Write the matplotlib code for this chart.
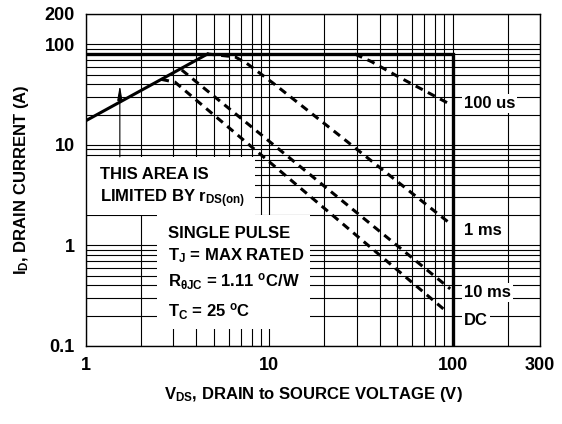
import matplotlib
matplotlib.use("Agg")
import matplotlib.pyplot as plt
from matplotlib.patches import Rectangle
from matplotlib.ticker import LogLocator, NullFormatter

plt.rcParams['font.family'] = ['Liberation Sans', 'DejaVu Sans']
plt.rcParams['font.weight'] = 'bold'
plt.rcParams['mathtext.fontset'] = 'custom'
plt.rcParams['mathtext.rm'] = 'Liberation Sans:bold'
plt.rcParams['mathtext.it'] = 'Liberation Sans:bold'
plt.rcParams['mathtext.bf'] = 'Liberation Sans:bold'
plt.rcParams['mathtext.sf'] = 'Liberation Sans:bold'

# limit lines (solid)
rds_v = [1, 4.6]            # r_DS(on) limit
rds_i = [17.4, 80]
lim_v = [1, 100, 100]       # current limit + voltage limit
lim_i = [80, 80, 0.1]

# pulse curves (dashed)
us100_v = [29.3, 36.2, 50.6, 95]
us100_i = [80, 67, 47.5, 25.8]
ms1_v = [4.6, 6.5, 7.5, 10.5, 24, 99]
ms1_i = [80, 75, 65, 41, 12.5, 1.6]
ms10_v = [3.33, 97]
ms10_i = [55.5, 0.37]
dc_v = [2.57, 3.06, 90]
dc_i = [44.8, 42, 0.23]

curve_labels = ['100 us', '1 ms', '10 ms', 'DC']
label_i = [26, 1.42, 0.344, 0.18]
label_v = 115

xticks = [1, 10, 100, 300]
yticks = [0.1, 1, 10, 100, 200]

fig = plt.figure(figsize=(5.62, 4.24), dpi=100)
ax = fig.add_axes([0.153, 0.184, 0.808, 0.783])
ax.set_xscale('log')
ax.set_yscale('log')
ax.set_xlim(1, 300)
ax.set_ylim(0.1, 200)

ax.xaxis.set_minor_locator(LogLocator(base=10, subs=range(2, 10)))
ax.yaxis.set_minor_locator(LogLocator(base=10, subs=range(2, 10)))
ax.xaxis.set_minor_formatter(NullFormatter())
ax.yaxis.set_minor_formatter(NullFormatter())
ax.set_xticks(xticks)
ax.set_xticklabels([str(t) for t in xticks])
ax.set_yticks(yticks)
ax.set_yticklabels([str(t) for t in yticks])
ax.tick_params(which='both', length=0, labelsize=13, pad=8)
ax.set_axisbelow(True)
ax.grid(True, which='both', color='black', linewidth=0.8)
for s in ax.spines.values():
    s.set_linewidth(1.0)

# white text boxes hiding the grid
ax.add_patch(Rectangle((0, 0.395), 0.372, 0.174, transform=ax.transAxes,
                       facecolor='white', edgecolor='none', zorder=1))
ax.add_patch(Rectangle((0.156, 0.051), 0.337, 0.344, transform=ax.transAxes,
                       facecolor='white', edgecolor='none', zorder=1))

ax.plot(rds_v, rds_i, color='black', lw=2.2, zorder=3)
ax.plot(lim_v, lim_i, color='black', lw=2.4, zorder=3, solid_joinstyle='miter')
for v, i in [(us100_v, us100_i), (ms1_v, ms1_i), (ms10_v, ms10_i), (dc_v, dc_i)]:
    ax.plot(v, i, color='black', lw=2.2, dashes=(2.6, 1.9), dash_capstyle='butt', zorder=3)

for txt, yi in zip(curve_labels, label_i):
    ax.text(label_v, yi, txt, fontsize=12, fontweight='bold', va='center', ha='left',
            bbox=dict(facecolor='white', edgecolor='none', pad=1.5), zorder=4)

ax.annotate('', xy=(1.53, 39), xytext=(1.53, 7.6),
            arrowprops=dict(arrowstyle='-|>,head_length=0.85,head_width=0.15',
                            color='black', lw=0.8, shrinkA=0, shrinkB=0), zorder=3)

fs = 12
ax.text(0.031, 0.502, 'THIS AREA IS', transform=ax.transAxes, fontsize=fs, va='baseline')
ax.text(0.031, 0.432, r'LIMITED BY r$_{DS(on)}$', transform=ax.transAxes, fontsize=fs, va='baseline')
ax.text(0.181, 0.324, 'SINGLE PULSE', transform=ax.transAxes, fontsize=fs, va='baseline')
ax.text(0.181, 0.259, r'T$_{J}$ = MAX RATED', transform=ax.transAxes, fontsize=fs, va='baseline')
ax.text(0.181, 0.179, r'R$_{\theta JC}$ = 1.11 $^{o}$C/W', transform=ax.transAxes, fontsize=fs, va='baseline')
ax.text(0.181, 0.088, r'T$_{C}$ = 25 $^{o}$C', transform=ax.transAxes, fontsize=fs, va='baseline')

ax.set_xlabel(r'V$_{DS}$, DRAIN to SOURCE VOLTAGE (V)', fontsize=12, fontweight='bold', labelpad=8)
ax.set_ylabel(r'I$_{D}$, DRAIN CURRENT (A)', fontsize=12, fontweight='bold', labelpad=10)

fig.savefig('out.png', dpi=100)
